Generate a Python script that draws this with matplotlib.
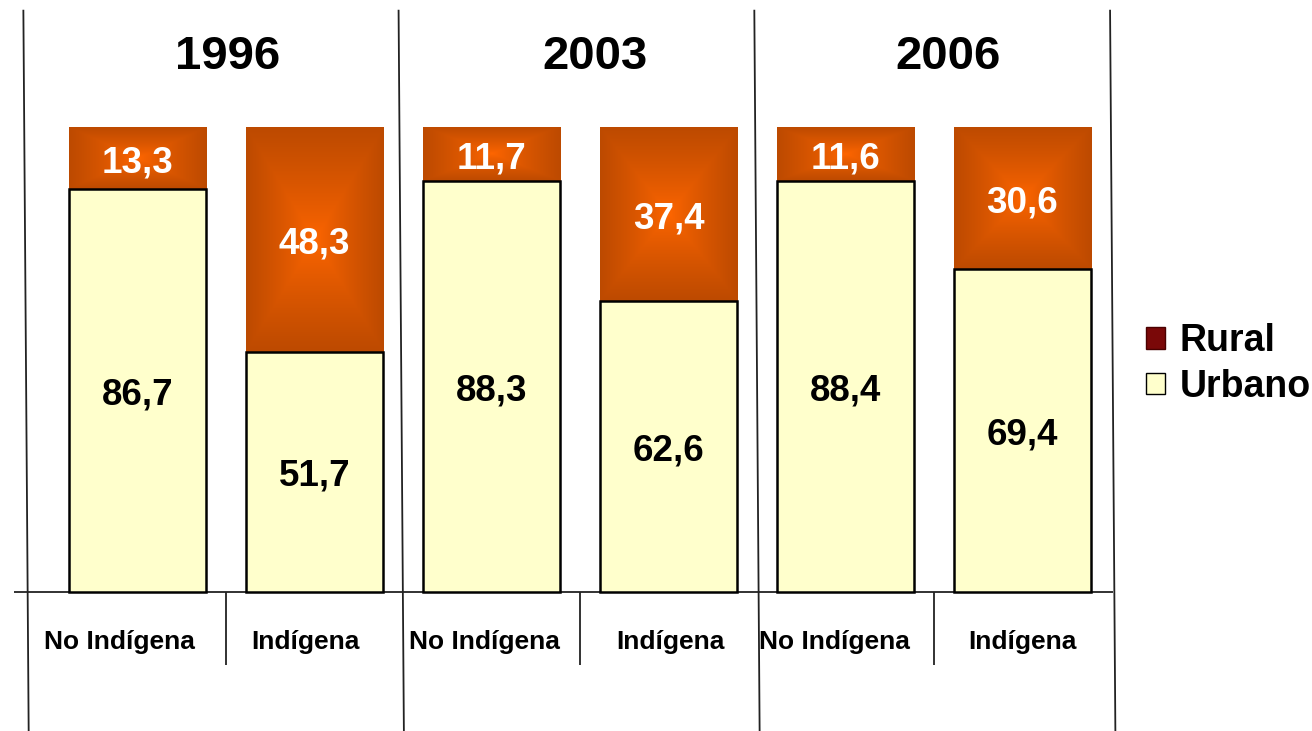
import numpy as np
import matplotlib.pyplot as plt
from matplotlib.patches import Patch

# data
years = ['1996', '2003', '2006']
cat_labels = ['No Indígena', 'Indígena'] * 3
urbano = [86.7, 51.7, 88.3, 62.6, 88.4, 69.4]
rural = [13.3, 48.3, 11.7, 37.4, 11.6, 30.6]

plt.rcParams['font.family'] = ['Liberation Sans', 'DejaVu Sans']
plt.rcParams['font.weight'] = 'bold'

fig = plt.figure(figsize=(13.12, 7.31), dpi=100)
ax = fig.add_axes([0, 0, 1, 1])
ax.axis('off')

x = np.arange(len(urbano))
w = 0.775

bars_u = ax.bar(x, urbano, w, color='#FFFFCC', edgecolor='black',
                linewidth=1.8, zorder=3)
bars_r = ax.bar(x, rural, w, bottom=urbano, color='#C04E00',
                linewidth=0, zorder=2)

# rectangular "path" gradient for the rural segments
center = np.array([1.0, 0.40, 0.0])
edge = np.array([0.74, 0.29, 0.0])
n = 200
u = np.linspace(-1, 1, n)
t = np.maximum(np.abs(u)[None, :], np.abs(u)[:, None]) ** 0.8
grad = center * (1 - t[..., None]) + edge * t[..., None]
for xi, b, r in zip(x, urbano, rural):
    patch = bars_r[xi]
    im = ax.imshow(grad, extent=(xi - w / 2, xi + w / 2, b, b + r),
                   aspect='auto', zorder=2.5, interpolation='bilinear')
    im.set_clip_path(patch)

ax.set_xlim(-0.777, 6.636)
ax.set_ylim(-29.9, 127.3)

def fmt(v):
    return f'{v:.1f}'.replace('.', ',')

for xi, b, r in zip(x, urbano, rural):
    ax.text(xi, b / 2 - 1, fmt(b), ha='center', va='center',
            fontsize=26.5, color='black', zorder=5)
    ax.text(xi, b + r / 2 - 1, fmt(r), ha='center', va='center',
            fontsize=26.5, color='white', zorder=5)

label_shift = [-0.1, -0.05, -0.04, 0.01, -0.06, 0.0]
for xi, lab, s in zip(x, cat_labels, label_shift):
    ax.text(xi + s, -10.7, lab, ha='center', va='center', fontsize=19)

title_shift = [0.01, 0.085, 0.08]
for g, (yr, s) in enumerate(zip(years, title_shift)):
    ax.text(2 * g + 0.5 + s, 115, yr, ha='center', va='center', fontsize=34)

# frame lines of the slide
line_kw = dict(color='#222222', lw=1.3, zorder=1, solid_capstyle='butt')
ax.plot([-0.698, 5.511], [0, 0], **line_kw)
for s in [-0.63, 1.49, 3.5, 5.51]:
    ax.plot([s - 0.015, s + 0.015], [125.2, -29.9], **line_kw)
for s in [0.5, 2.5, 4.5]:
    ax.plot([s, s], [0, -15.7], **line_kw)

handles = [Patch(facecolor='#7A0808', edgecolor='#4A0000', label='Rural'),
           Patch(facecolor='#FFFFCC', edgecolor='black', label='Urbano')]
fig.legend(handles=handles, loc='center left', bbox_to_anchor=(0.8735, 0.502),
           bbox_transform=fig.transFigure, frameon=False, fontsize=27,
           borderpad=0, borderaxespad=0, handlelength=0.5, handleheight=0.5,
           handletextpad=0.4, labelspacing=0.25)

fig.savefig('out.png', dpi=100)
